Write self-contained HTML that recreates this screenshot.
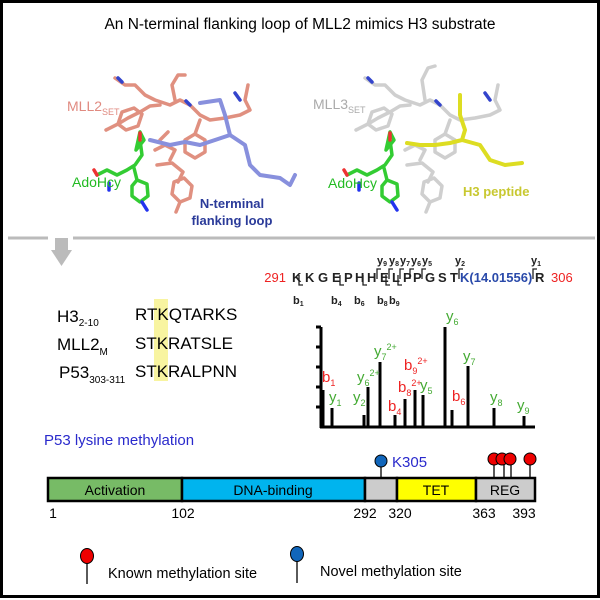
<!DOCTYPE html>
<html><head><meta charset="utf-8"><style>
html,body{margin:0;padding:0;background:#fff}
svg{display:block}
text{font-family:"Liberation Sans",Arial,sans-serif}
</style></head><body>
<svg width="600" height="600" viewBox="0 0 600 600" xmlns="http://www.w3.org/2000/svg">
<rect x="1.5" y="1.5" width="597" height="595" fill="#fff" stroke="#000" stroke-width="3"/>
<text x="300" y="29" font-size="15.5" text-anchor="middle">An N-terminal flanking loop of MLL2 mimics H3 substrate</text>

<!-- left structure -->
<g fill="none" stroke-linecap="round" stroke-linejoin="round" stroke-width="3.5">
 <g stroke="#e09080">
  <polyline points="106,130 118,124 128,118 140,112 150,106 160,105"/>
  <polygon points="118,124 122,112 134,108 142,114 138,126 126,130"/>
  <polyline points="115,78 125,85 135,85 145,95 155,100 170,105 180,100 190,105 200,115 210,120 225,118 240,115 250,110 245,100 248,85"/>
  <polyline points="175,100 172,85 178,75 185,75"/>
  <polygon points="185,140 195,134 205,140 205,152 195,158 185,152"/>
  <polyline points="200,120 195,134"/>
  <polyline points="157,165 172,163 183,172 178,182"/>
  <polygon points="174,182 184,178 192,186 190,198 180,202 172,194"/>
  <polyline points="180,202 176,212"/>
  <polyline points="155,150 165,145 175,150 170,160"/>
  <polyline points="160,140 168,132"/>
 </g>
 <g stroke="#3344cc"><polyline points="118,78 122,82"/><polyline points="190,105 186,101"/><polyline points="235,93 240,100"/></g>
 <g stroke="#8890dd" stroke-width="4">
  <polyline points="150,140 170,145 185,142 200,145 215,140 230,135 225,115 220,100 200,103"/>
  <polyline points="230,135 245,145 250,165 260,175 280,178 290,185 295,175"/>
 </g>
 <g transform="translate(12,0)">
 <g stroke="#33cc33">
  <polyline points="85,175 95,170 105,175 115,170 123,165 130,155 128,140"/>
  <polygon points="124,150 132,140 128,132"/>
  <polyline points="122,168 125,180"/>
  <polygon points="125,180 135,184 136,196 128,202 120,196 120,186"/>
 </g>
 <g stroke="#2233ee"><polyline points="97,183 97,190"/><polyline points="130,202 135,210"/></g>
 <g stroke="#ee3333"><polyline points="85,175 82,170"/><polyline points="128,140 128,133"/></g>
 </g>
</g>
<text x="67" y="111" font-size="14" fill="#e08a80">MLL2<tspan font-size="9" dy="4">SET</tspan></text>
<text x="72" y="187" font-size="14" fill="#22bb22">AdoHcy</text>
<text x="232" y="208" font-size="13" font-weight="bold" fill="#2a3a99" text-anchor="middle">N-terminal</text>
<text x="232" y="225" font-size="13" font-weight="bold" fill="#2a3a99" text-anchor="middle">flanking loop</text>

<!-- right structure -->
<g transform="translate(250,0)" fill="none" stroke-linecap="round" stroke-linejoin="round" stroke-width="3.5">
 <g stroke="#cfcfcf">
  <polyline points="106,130 118,124 128,118 140,112 150,106 160,105"/>
  <polygon points="118,124 122,112 134,108 142,114 138,126 126,130"/>
  <polyline points="115,78 125,85 135,85 145,95 155,100 170,105 180,100 190,105 200,115 210,120 225,118 240,115 250,110 245,100 248,85"/>
  <polyline points="175,100 172,80 178,68 185,66"/>
  <polygon points="185,140 195,134 205,140 205,152 195,158 185,152"/>
  <polyline points="200,120 195,134"/>
  <polyline points="157,165 172,163 183,172 178,182"/>
  <polygon points="174,182 184,178 192,186 190,198 180,202 172,194"/>
  <polyline points="180,202 176,212"/>
  <polyline points="155,150 165,145 175,150 170,160"/>
 </g>
 <g stroke="#3344cc"><polyline points="118,78 122,82"/><polyline points="190,105 186,101"/><polyline points="235,93 240,100"/></g>
 <g stroke="#dddd22" stroke-width="4">
  <polyline points="157,143 170,145 185,145 200,143 212,140 215,130 210,115 210,95"/>
  <polyline points="212,140 230,145 240,160 255,165 272,163"/>
 </g>
 <g transform="translate(12,0)">
 <g stroke="#33cc33">
  <polyline points="85,175 95,170 105,175 115,170 123,165 130,155 128,140"/>
  <polygon points="124,150 132,140 128,132"/>
  <polyline points="122,168 125,180"/>
  <polygon points="125,180 135,184 136,196 128,202 120,196 120,186"/>
 </g>
 <g stroke="#2233ee"><polyline points="97,183 97,190"/><polyline points="130,202 135,210"/></g>
 <g stroke="#ee3333"><polyline points="85,175 82,170"/><polyline points="128,140 128,133"/></g>
 </g>
</g>
<text x="313" y="109" font-size="14" fill="#aaaaaa">MLL3<tspan font-size="9" dy="4">SET</tspan></text>
<text x="328" y="188" font-size="14" fill="#22bb22">AdoHcy</text>
<text x="463" y="196" font-size="13" font-weight="bold" fill="#c8c830">H3 peptide</text>

<!-- separator and arrow -->
<line x1="8" y1="238" x2="48" y2="238" stroke="#bbb" stroke-width="3"/>
<line x1="73" y1="238" x2="595" y2="238" stroke="#bbb" stroke-width="3"/>
<rect x="55" y="238" width="13" height="12" fill="#bbb"/>
<polygon points="51,250 72,250 61.5,266" fill="#bbb"/>

<!-- sequence alignment -->
<rect x="154" y="299" width="14" height="82" fill="#f8f4a0"/>
<g font-size="17">
<text x="57" y="322">H3<tspan font-size="10" dy="4">2-10</tspan></text>
<text x="57" y="350">MLL2<tspan font-size="10" dy="5">M</tspan></text>
<text x="59" y="378">P53<tspan font-size="10" dy="5">303-311</tspan></text>
<text x="135" y="320">RTKQTARKS</text>
<text x="135" y="349">STKRATSLE</text>
<text x="135" y="377">STKRALPNN</text>
</g>

<!-- peptide sequence -->
<text x="286" y="282" font-size="13" fill="#ee2222" text-anchor="end">291</text>
<text x="551" y="282" font-size="13" fill="#ee2222">306</text>
<g font-size="13" font-weight="bold" fill="#222">
<text x="292" y="282">K</text><text x="305" y="282">K</text><text x="318" y="282">G</text>
<text x="332" y="282">E</text><text x="344" y="282">P</text><text x="355" y="282">H</text>
<text x="367" y="282">H</text><text x="380" y="282">E</text><text x="392" y="282">L</text>
<text x="403" y="282">P</text><text x="413" y="282">P</text><text x="425" y="282">G</text>
<text x="438" y="282">S</text><text x="450" y="282">T</text>
<text x="460" y="282" fill="#2a4aaa">K(14.01556)</text><text x="535" y="282">R</text>
</g>
<g font-size="11" font-weight="bold" fill="#222">
<text x="377" y="264">y<tspan font-size="7" dy="2">9</tspan></text>
<text x="389" y="264">y<tspan font-size="7" dy="2">8</tspan></text>
<text x="400" y="264">y<tspan font-size="7" dy="2">7</tspan></text>
<text x="411" y="264">y<tspan font-size="7" dy="2">6</tspan></text>
<text x="422" y="264">y<tspan font-size="7" dy="2">5</tspan></text>
<text x="455" y="264">y<tspan font-size="7" dy="2">2</tspan></text>
<text x="531" y="264">y<tspan font-size="7" dy="2">1</tspan></text>
<text x="293" y="304">b<tspan font-size="7" dy="2">1</tspan></text>
<text x="331" y="304">b<tspan font-size="7" dy="2">4</tspan></text>
<text x="354" y="304">b<tspan font-size="7" dy="2">6</tspan></text>
<text x="377" y="304">b<tspan font-size="7" dy="2">8</tspan></text>
<text x="389" y="304">b<tspan font-size="7" dy="2">9</tspan></text>
</g>
<g fill="none" stroke="#222" stroke-width="1.3">
<polyline points="299,275 299,285 303,285"/><polyline points="340,275 340,285 344,285"/>
<polyline points="363,275 363,285 367,285"/><polyline points="386,275 386,285 390,285"/>
<polyline points="398,275 398,285 402,285"/>
<polyline points="377,279 377,269 381,269"/><polyline points="389,279 389,269 393,269"/>
<polyline points="400,279 400,269 404,269"/><polyline points="410,279 410,269 414,269"/>
<polyline points="422,279 422,269 426,269"/><polyline points="459,279 459,269 463,269"/>
<polyline points="533,279 533,269 537,269"/>
</g>

<!-- spectrum -->
<g stroke="#000" stroke-width="3" fill="none">
<line x1="321" y1="327" x2="321" y2="428"/>
<line x1="320" y1="427" x2="535" y2="427"/>
<line x1="316" y1="327" x2="321" y2="327"/><line x1="316" y1="347" x2="321" y2="347"/>
<line x1="316" y1="367" x2="321" y2="367"/><line x1="316" y1="387" x2="321" y2="387"/>
<line x1="316" y1="407" x2="321" y2="407"/>
<line x1="323" y1="390" x2="323" y2="427"/>
<line x1="332" y1="408" x2="332" y2="427"/>
<line x1="364" y1="415" x2="364" y2="427"/>
<line x1="368" y1="387" x2="368" y2="427"/>
<line x1="380" y1="362" x2="380" y2="427"/>
<line x1="395" y1="415" x2="395" y2="427"/>
<line x1="405" y1="399" x2="405" y2="427"/>
<line x1="415" y1="390" x2="415" y2="427"/>
<line x1="423" y1="395" x2="423" y2="427"/>
<line x1="445" y1="327" x2="445" y2="427"/>
<line x1="452" y1="410" x2="452" y2="427"/>
<line x1="468" y1="366" x2="468" y2="427"/>
<line x1="494" y1="408" x2="494" y2="427"/>
<line x1="524" y1="416" x2="524" y2="427"/>
</g>
<g font-size="15">
<g fill="#ee2222">
<text x="322" y="382">b<tspan font-size="9" dy="4">1</tspan></text>
<text x="388" y="411">b<tspan font-size="9" dy="4">4</tspan></text>
<text x="398" y="392">b<tspan font-size="9" dy="4">8</tspan><tspan font-size="9" dy="-10">2+</tspan></text>
<text x="404" y="370">b<tspan font-size="9" dy="4">9</tspan><tspan font-size="9" dy="-10">2+</tspan></text>
<text x="452" y="401">b<tspan font-size="9" dy="4">6</tspan></text>
</g>
<g fill="#44aa33">
<text x="329" y="402">y<tspan font-size="9" dy="4">1</tspan></text>
<text x="353" y="402">y<tspan font-size="9" dy="4">2</tspan></text>
<text x="357" y="382">y<tspan font-size="9" dy="4">6</tspan><tspan font-size="9" dy="-10">2+</tspan></text>
<text x="374" y="356">y<tspan font-size="9" dy="4">7</tspan><tspan font-size="9" dy="-10">2+</tspan></text>
<text x="420" y="390">y<tspan font-size="9" dy="4">5</tspan></text>
<text x="446" y="321">y<tspan font-size="9" dy="4">6</tspan></text>
<text x="463" y="361">y<tspan font-size="9" dy="4">7</tspan></text>
<text x="490" y="402">y<tspan font-size="9" dy="4">8</tspan></text>
<text x="517" y="410">y<tspan font-size="9" dy="4">9</tspan></text>
</g>
</g>

<!-- P53 domains -->
<text x="44" y="445" font-size="15" fill="#2a2acc">P53 lysine methylation</text>
<g stroke="#000" stroke-width="1.3">
<line x1="381" y1="462" x2="381" y2="478"/>
<line x1="494" y1="460" x2="494" y2="478"/><line x1="504" y1="460" x2="504" y2="478"/>
<line x1="511" y1="460" x2="511" y2="478"/><line x1="530" y1="460" x2="530" y2="478"/>
</g>
<g stroke="#000" stroke-width="1">
<circle cx="381" cy="461" r="6" fill="#1166bb"/>
<circle cx="494" cy="459" r="6" fill="#ee0000"/><circle cx="502" cy="459" r="6" fill="#ee0000"/>
<circle cx="510" cy="459" r="6" fill="#ee0000"/><circle cx="530" cy="459" r="6" fill="#ee0000"/>
</g>
<text x="392" y="467" font-size="15" fill="#2a2acc">K305</text>
<g stroke="#000" stroke-width="2.5">
<rect x="48" y="478" width="134" height="23" fill="#77bb66"/>
<rect x="182" y="478" width="183" height="23" fill="#00b4ee"/>
<rect x="365" y="478" width="32" height="23" fill="#cccccc"/>
<rect x="397" y="478" width="79" height="23" fill="#ffff00"/>
<rect x="476" y="478" width="59" height="23" fill="#cccccc"/>
</g>
<g font-size="14" text-anchor="middle">
<text x="115" y="495">Activation</text>
<text x="273" y="495">DNA-binding</text>
<text x="436" y="495">TET</text>
<text x="505" y="495">REG</text>
</g>
<g font-size="14" text-anchor="middle">
<text x="53" y="518">1</text><text x="183" y="518">102</text><text x="365" y="518">292</text>
<text x="400" y="518">320</text><text x="484" y="518">363</text><text x="524" y="518">393</text>
</g>

<!-- legend -->
<line x1="87" y1="560" x2="87" y2="584" stroke="#000" stroke-width="1.3"/>
<ellipse cx="87" cy="556" rx="6.5" ry="7.5" fill="#ee0000" stroke="#000"/>
<text x="108" y="578" font-size="14.5">Known methylation site</text>
<line x1="297" y1="558" x2="297" y2="583" stroke="#000" stroke-width="1.3"/>
<ellipse cx="297" cy="554" rx="6.5" ry="7.5" fill="#1166bb" stroke="#000"/>
<text x="320" y="576" font-size="14.5">Novel methylation site</text>
</svg>
</body></html>
